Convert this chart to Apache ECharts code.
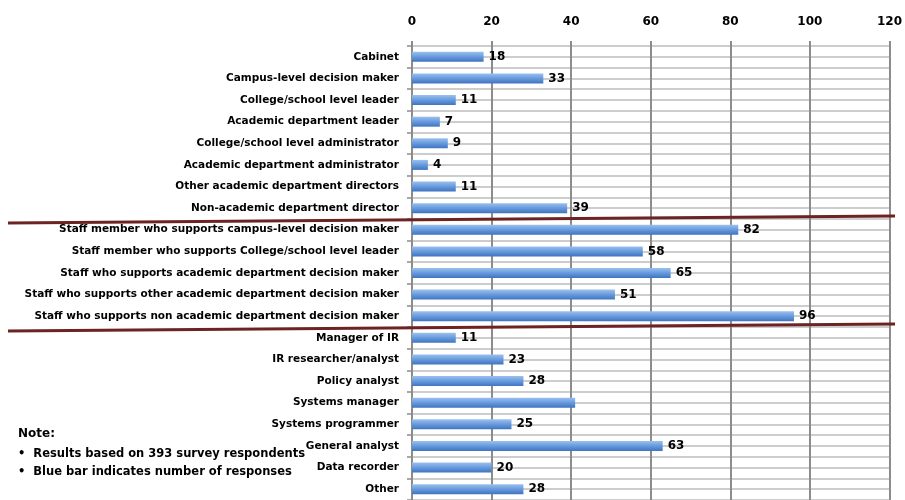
<!DOCTYPE html>
<html>
<head>
<meta charset="utf-8">
<script src="https://cdn.jsdelivr.net/npm/echarts@6/dist/echarts.min.js"></script>
<style>
  html, body { margin: 0; padding: 0; background: #fff; }
  #main { width: 905px; height: 500px; }
</style>
</head>
<body>
<div id="main"></div>
<script>
var categories = [
    'Cabinet',
    'Campus-level decision maker',
    'College/school level leader',
    'Academic department leader',
    'College/school level administrator',
    'Academic department administrator',
    'Other academic department directors',
    'Non-academic department director',
    'Staff member who supports campus-level decision maker',
    'Staff member who supports College/school level leader',
    'Staff who supports academic department decision maker',
    'Staff who supports other academic department decision maker',
    'Staff who supports non academic department decision maker',
    'Manager of IR',
    'IR researcher/analyst',
    'Policy analyst',
    'Systems manager',
    'Systems programmer',
    'General analyst',
    'Data recorder',
    'Other'
];
var responses = [18, 33, 11, 7, 9, 4, 11, 39, 82, 58, 65, 51, 96, 11, 23, 28, 41, 25, 63, 20, 28];
// the picture shows no number next to this bar
var unlabeled = ['Systems manager'];
var xTicks = [0, 120, 20];
// separator lines drawn after these groups
var groupEnds = [8, 13];
var noteTitle = 'Note:';
var noteLines = ['Results based on 393 survey respondents', 'Blue bar indicates number of responses'];

var FONT = '"DejaVu Sans", "Liberation Sans", sans-serif';

var myChart = echarts.init(document.getElementById('main'));

var barData = [];
for (var i = 0; i < responses.length; i++) {
    var item = { value: responses[i] };
    if (unlabeled.indexOf(categories[i]) >= 0) {
        item.label = { show: false };
    }
    barData.push(item);
}

var option = {
    animation: false,
    grid: {
        left: 412,
        right: 13,
        top: 46,
        height: 456
    },
    xAxis: {
        type: 'value',
        position: 'top',
        min: xTicks[0],
        max: xTicks[1],
        interval: xTicks[2],
        axisLine: { show: false },
        axisTick: {
            show: true,
            length: 5,
            lineStyle: { color: '#8c8c8c', width: 2 }
        },
        axisLabel: {
            margin: 18,
            color: '#000',
            fontWeight: 'bold',
            fontSize: 12,
            fontFamily: FONT
        },
        splitLine: {
            show: true,
            lineStyle: { color: '#8c8c8c', width: 2 }
        }
    },
    yAxis: [
        {
            type: 'category',
            data: categories,
            inverse: true,
            axisLine: {
                show: true,
                lineStyle: { color: '#8c8c8c', width: 2 }
            },
            axisTick: {
                show: true,
                length: 5,
                lineStyle: { color: '#8c8c8c', width: 1.5 }
            },
            axisLabel: {
                margin: 13,
                color: '#000',
                fontWeight: 'bold',
                fontSize: 10.5,
                fontFamily: FONT
            },
            splitLine: { show: false }
        },
        {
            // half-row grid lines, as in the picture
            type: 'value',
            min: 0,
            max: categories.length * 2,
            interval: 1,
            inverse: true,
            axisLine: { show: false },
            axisTick: { show: false },
            axisLabel: { show: false },
            splitLine: {
                show: true,
                lineStyle: { color: '#bdbdbd', width: 1.5 }
            }
        }
    ],
    series: [
        {
            type: 'bar',
            yAxisIndex: 0,
            data: barData,
            barWidth: 10,
            itemStyle: {
                color: new echarts.graphic.LinearGradient(0, 0, 0, 1, [
                    { offset: 0, color: '#9cc0ec' },
                    { offset: 0.45, color: '#6b9ee0' },
                    { offset: 1, color: '#3f74c0' }
                ])
            },
            label: {
                show: true,
                position: 'right',
                distance: 5,
                color: '#000',
                fontWeight: 'bold',
                fontSize: 12,
                fontFamily: FONT
            },
            z: 3
        }
    ]
};

myChart.setOption(option);

// separators and the note
var graphics = [];
for (var g = 0; g < groupEnds.length; g++) {
    var y = myChart.convertToPixel({ yAxisIndex: 1 }, groupEnds[g] * 2);
    graphics.push({
        type: 'line',
        shape: { x1: 8, y1: y + 4, x2: 895, y2: y - 3 },
        style: { stroke: '#6e2323', lineWidth: 3 },
        z: 10
    });
}
graphics.push({
    type: 'text',
    left: 18,
    top: 428,
    style: { text: noteTitle, fill: '#000', font: 'bold 12px ' + FONT }
});
for (var n = 0; n < noteLines.length; n++) {
    graphics.push({
        type: 'text',
        left: 18,
        top: 448 + n * 18,
        style: { text: '\u2022  ' + noteLines[n], fill: '#000', font: 'bold 11.5px ' + FONT }
    });
}
myChart.setOption({ graphic: graphics });
</script>
</body>
</html>
